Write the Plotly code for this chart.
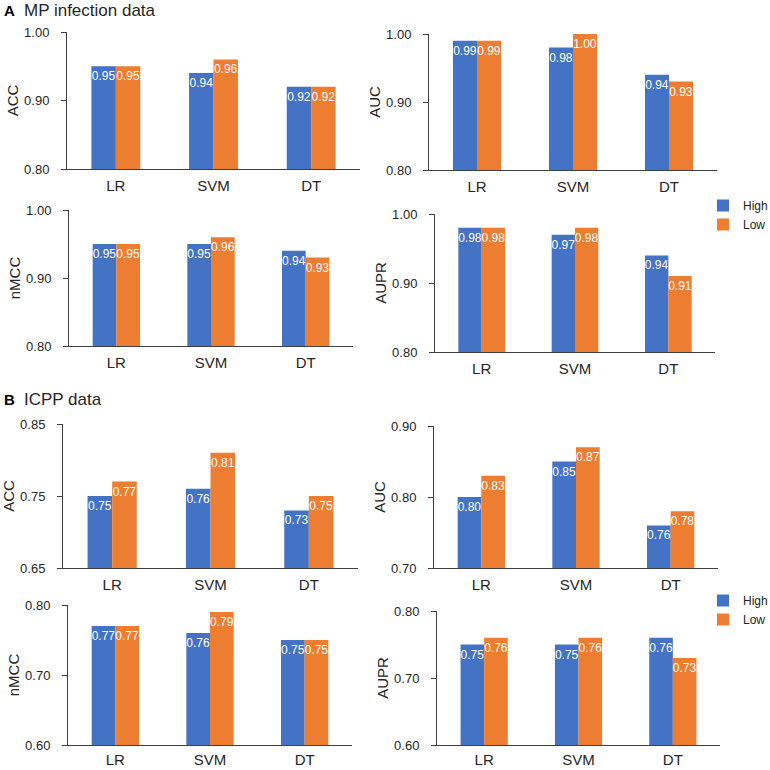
import plotly.graph_objects as go

# ---------------- data ----------------
categories = ["LR", "SVM", "DT"]
series_names = ["High", "Low"]

mp_acc_high = [0.95, 0.94, 0.92]
mp_acc_low = [0.95, 0.96, 0.92]
mp_auc_high = [0.99, 0.98, 0.94]
mp_auc_low = [0.99, 1.00, 0.93]
mp_nmcc_high = [0.95, 0.95, 0.94]
mp_nmcc_low = [0.95, 0.96, 0.93]
mp_aupr_high = [0.98, 0.97, 0.94]
mp_aupr_low = [0.98, 0.98, 0.91]

icpp_acc_high = [0.75, 0.76, 0.73]
icpp_acc_low = [0.77, 0.81, 0.75]
icpp_auc_high = [0.80, 0.85, 0.76]
icpp_auc_low = [0.83, 0.87, 0.78]
icpp_nmcc_high = [0.77, 0.76, 0.75]
icpp_nmcc_low = [0.77, 0.79, 0.75]
icpp_aupr_high = [0.75, 0.75, 0.76]
icpp_aupr_low = [0.76, 0.76, 0.73]

panel_titles = ["ACC", "AUC", "nMCC", "AUPR", "ACC", "AUC", "nMCC", "AUPR"]
panel_high = [mp_acc_high, mp_auc_high, mp_nmcc_high, mp_aupr_high,
              icpp_acc_high, icpp_auc_high, icpp_nmcc_high, icpp_aupr_high]
panel_low = [mp_acc_low, mp_auc_low, mp_nmcc_low, mp_aupr_low,
             icpp_acc_low, icpp_auc_low, icpp_nmcc_low, icpp_aupr_low]
panel_ranges = [[0.80, 1.00], [0.80, 1.00], [0.80, 1.00], [0.80, 1.00],
                [0.65, 0.85], [0.70, 0.90], [0.60, 0.80], [0.60, 0.80]]
panel_tick_step = 0.1

# ---------------- styling / layout ----------------
W = H = 770
FONT = "Liberation Sans, Arial, sans-serif"
TXT = "#262626"
AX = "#404040"
BLUE = "#4472C4"
ORANGE = "#ED7D31"

# pixel boxes: (x0, x1, ytop, ybottom)
boxes = [
    (67, 360, 32, 169), (429, 717, 34, 170),
    (69, 353, 210, 346), (435, 715, 214, 352),
    (63, 358, 424, 568), (434, 718, 426, 568),
    (68, 352, 605, 745), (437, 720, 611, 745),
]
xlabel_standoff = [3, 3, 3, 3, 3, 3, 1, 1]

fig = go.Figure()
layout = dict(
    width=W, height=H,
    margin=dict(l=0, r=0, t=0, b=0, autoexpand=False),
    paper_bgcolor="white", plot_bgcolor="white",
    font=dict(family=FONT, color=TXT, size=13),
    barmode="group", bargap=0.5, bargroupgap=0,
    uniformtext=dict(minsize=12, mode="show"),
    hovermode=False,
)

for i in range(8):
    n = "" if i == 0 else str(i + 1)
    xa, ya = "x" + n, "y" + n
    x0, x1, yt, yb = boxes[i]
    lg = "legend" if i < 4 else "legend2"
    show = i in (3, 7)
    for name, vals, col in ((series_names[0], panel_high[i], BLUE),
                            (series_names[1], panel_low[i], ORANGE)):
        fig.add_trace(go.Bar(
            x=categories, y=vals, name=name, marker_color=col,
            marker_line_width=0,
            texttemplate="%{y:.2f}", textposition="inside",
            insidetextanchor="end", textangle=0, constraintext="none",
            textfont=dict(color="white", size=12, family=FONT),
            xaxis=xa, yaxis=ya, legend=lg, showlegend=show,
            hoverinfo="skip",
        ))
    lo, hi = panel_ranges[i]
    nt = int(round((hi - lo) / panel_tick_step))
    tv = [round(lo + k * panel_tick_step, 2) for k in range(nt + 1)]
    layout["xaxis" + n] = dict(
        domain=[x0 / W, x1 / W], anchor=ya, automargin=False,
        showline=True, linecolor=AX, linewidth=1,
        ticks="", showgrid=False, zeroline=False,
        tickfont=dict(size=15, color=TXT), ticklabelstandoff=xlabel_standoff[i],
        fixedrange=True,
    )
    layout["yaxis" + n] = dict(
        domain=[1 - yb / H, 1 - yt / H], anchor=xa, automargin=False,
        range=[lo, hi], tickvals=tv, tickformat=".2f",
        showline=True, linecolor=AX, linewidth=1,
        ticks="outside", ticklen=5, tickcolor=AX,
        showgrid=False, zeroline=False,
        tickfont=dict(size=13, color=TXT), ticklabelstandoff=9,
        title=dict(text=panel_titles[i], font=dict(size=15, color=TXT), standoff=1),
        fixedrange=True,
    )

layout["legend"] = dict(x=703 / W, y=1 - 191 / H, xanchor="left", yanchor="top",
                        font=dict(size=12, color=TXT), bgcolor="rgba(0,0,0,0)",
                        tracegroupgap=0, itemclick=False)
layout["legend2"] = dict(x=703 / W, y=1 - 586 / H, xanchor="left", yanchor="top",
                         font=dict(size=12, color=TXT), bgcolor="rgba(0,0,0,0)",
                         tracegroupgap=0, itemclick=False)

layout["annotations"] = [
    dict(text="<b>A</b>", x=2 / W, y=1 - 11 / H, xref="paper", yref="paper",
         xanchor="left", yanchor="middle", showarrow=False,
         font=dict(size=15, color="black")),
    dict(text="MP infection data", x=22 / W, y=1 - 11 / H, xref="paper", yref="paper",
         xanchor="left", yanchor="middle", showarrow=False,
         font=dict(size=17, color=TXT)),
    dict(text="<b>B</b>", x=2 / W, y=1 - 400 / H, xref="paper", yref="paper",
         xanchor="left", yanchor="middle", showarrow=False,
         font=dict(size=15, color="black")),
    dict(text="ICPP data", x=22 / W, y=1 - 400 / H, xref="paper", yref="paper",
         xanchor="left", yanchor="middle", showarrow=False,
         font=dict(size=17, color=TXT)),
]

fig.update_layout(**layout)
fig.write_html("out.html",
               config={"displayModeBar": False, "staticPlot": False},
               post_script="document.body.style.margin='0';document.body.style.overflow='hidden';")
